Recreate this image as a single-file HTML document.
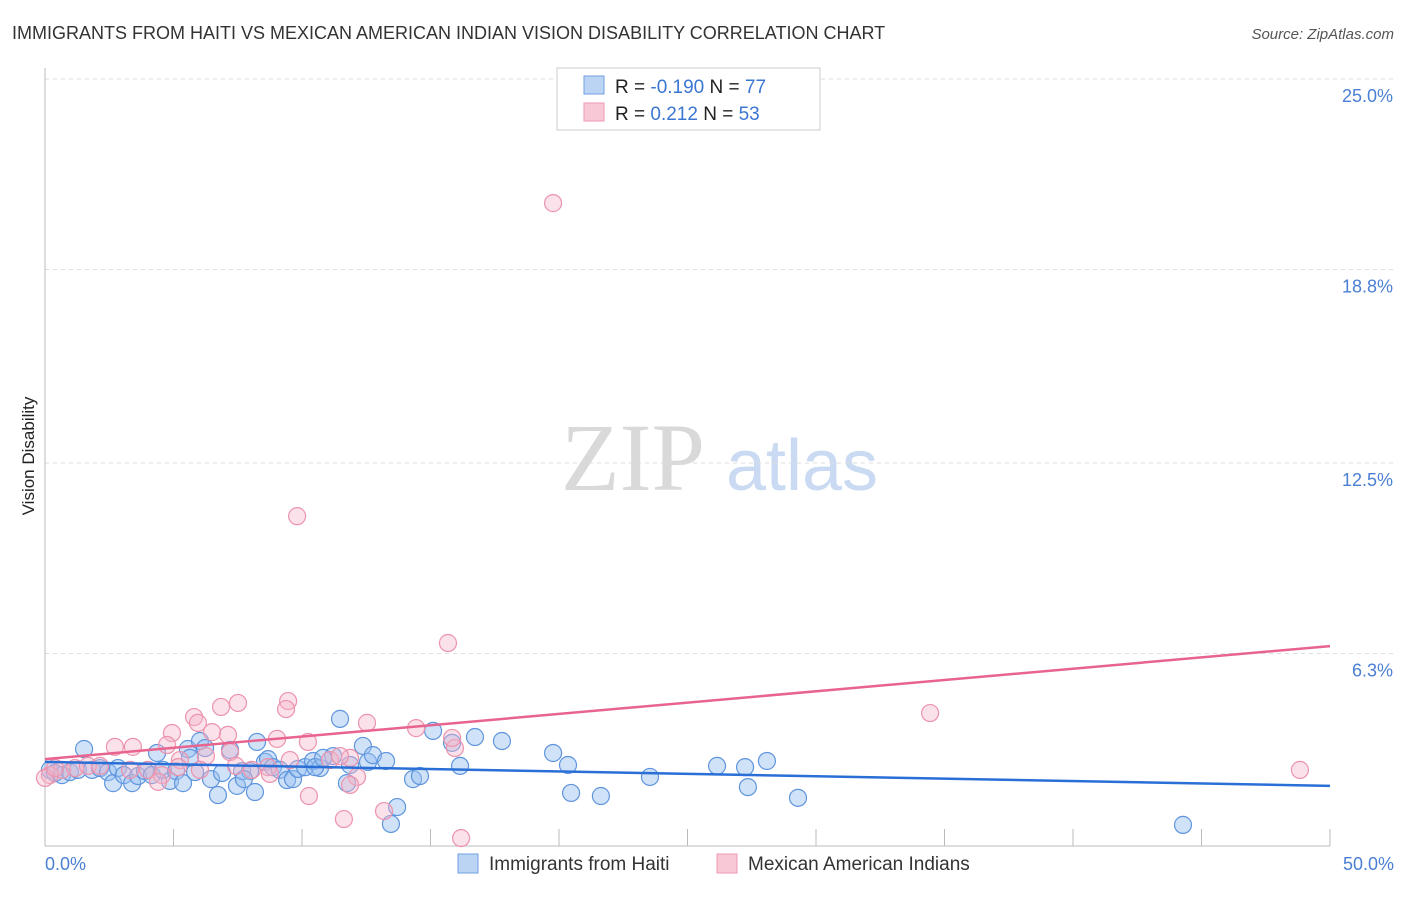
<!DOCTYPE html>
<html><head><meta charset="utf-8"><style>
body{margin:0;background:#fff;font-family:"Liberation Sans",sans-serif}
</style></head><body>
<svg width="1406" height="892" xmlns="http://www.w3.org/2000/svg" font-family="Liberation Sans, sans-serif">
<text x="12" y="39" font-size="18" fill="#333">IMMIGRANTS FROM HAITI VS MEXICAN AMERICAN INDIAN VISION DISABILITY CORRELATION CHART</text>
<text x="1394" y="39" font-size="15" fill="#555" font-style="italic" text-anchor="end">Source: ZipAtlas.com</text>
<g><text x="633" y="490" font-size="96" font-family="Liberation Serif, serif" fill="#d9d9d9" text-anchor="middle">ZIP</text><text x="802" y="490" font-size="72" fill="#c9daf2" text-anchor="middle">atlas</text></g>
<g id="grid"></g>
<line x1="45" y1="68" x2="45" y2="846" stroke="#bbb"/>
<line x1="45" y1="846" x2="1330" y2="846" stroke="#bbb"/>
<g id="ticks"></g>
<text transform="translate(34,456) rotate(-90)" font-size="17" fill="#222" text-anchor="middle">Vision Disability</text>
<text x="45" y="870" font-size="18" fill="#4a7fd4">0.0%</text>
<text x="1394" y="870" font-size="18" fill="#4a7fd4" text-anchor="end">50.0%</text>
<g id="pts"></g>
<g id="lines"></g>
<g>
<rect x="557" y="68" width="263" height="62" fill="#fff" stroke="#ccc"/>
<rect x="584" y="76" width="20" height="18" fill="#bcd4f4" stroke="#6f9fe0"/>
<rect x="584" y="103" width="20" height="18" fill="#f9c8d6" stroke="#ee9ab3"/>
<text x="615" y="93" font-size="19" fill="#222">R = <tspan fill="#3b76d2">-0.190</tspan>   N = <tspan fill="#3b76d2">77</tspan></text>
<text x="615" y="120" font-size="19" fill="#222">R =   <tspan fill="#3b76d2">0.212</tspan>   N = <tspan fill="#3b76d2">53</tspan></text>
</g>
<g>
<rect x="458" y="854" width="20" height="19" fill="#bcd4f4" stroke="#6f9fe0"/>
<text x="489" y="870" font-size="19" fill="#333">Immigrants from Haiti</text>
<rect x="717" y="854" width="20" height="19" fill="#f9c8d6" stroke="#ee9ab3"/>
<text x="748" y="870" font-size="19" fill="#333">Mexican American Indians</text>
</g>
</svg>
<script>
const yTicks=[25.0,18.8,12.5,6.3];
const yTickLabels=["25.0%","18.8%","12.5%","6.3%"];
const xTicks=[0,5,10,15,20,25,30,35,40,45,50];
const blueX=[0.19,0.39,0.66,0.97,1.28,1.52,1.83,2.14,2.45,2.65,2.84,3.07,3.39,3.62,3.89,4.16,4.36,4.59,4.86,5.1,5.37,5.56,5.64,6.03,6.23,6.46,6.73,6.89,7.2,7.47,7.67,7.98,8.17,8.25,8.56,8.68,8.87,9.14,9.42,9.65,9.84,10.12,10.43,10.7,11.21,11.48,11.75,11.87,12.37,12.57,12.76,13.27,13.46,13.7,14.32,14.59,15.1,15.84,16.15,16.73,17.78,19.77,20.35,20.47,21.63,23.54,26.15,27.24,27.35,28.09,29.3,44.28,10.51,10.82,7.74,5.84];
const blueY=[2.51,2.41,2.34,2.44,2.51,3.19,2.51,2.57,2.44,2.08,2.57,2.34,2.08,2.31,2.47,2.34,3.06,2.51,2.15,2.47,2.08,3.19,2.9,3.45,3.22,2.21,1.69,2.41,3.16,1.99,2.47,2.47,1.79,3.42,2.77,2.86,2.6,2.51,2.18,2.21,2.54,2.6,2.8,2.57,2.96,4.17,2.08,2.67,3.29,2.77,2.99,2.8,0.75,1.3,2.21,2.31,3.78,3.39,2.64,3.58,3.45,3.06,2.67,1.76,1.66,2.28,2.64,2.6,1.95,2.8,1.6,0.72,2.6,2.9,2.21,2.44];
const pinkX=[19.77,9.81,15.68,34.44,48.83,7.51,9.46,9.38,6.85,5.8,4.94,5.95,6.5,7.12,9.03,12.53,14.44,10.23,2.72,3.42,4.75,7.2,5.25,6.26,0.66,0.19,0,1.17,1.67,2.14,3.31,4.01,4.55,5.18,6.03,7.43,8.05,8.68,9.53,11.09,11.87,12.14,11.48,11.87,10.27,11.63,13.19,16.19,15.95,15.84,4.4,8.75,0.39];
const pinkY=[20.96,10.77,6.64,4.36,2.51,4.69,4.75,4.49,4.56,4.23,3.71,4.04,3.74,3.65,3.52,4.04,3.87,3.42,3.26,3.26,3.32,3.09,2.83,2.96,2.51,2.34,2.25,2.57,2.64,2.64,2.51,2.51,2.34,2.6,2.51,2.64,2.51,2.6,2.83,2.83,2.9,2.28,2.96,2.02,1.66,0.91,1.17,0.29,3.22,3.55,2.12,2.38,2.57];
const blueTrend=[2.77,1.99];
const pinkTrend=[2.86,6.54];
const NS="http://www.w3.org/2000/svg";
const sx=v=>45+v*25.7, sy=v=>847-v*30.72;
function mk(tag,attrs,parent){const e=document.createElementNS(NS,tag);for(const k in attrs)e.setAttribute(k,attrs[k]);document.getElementById(parent).appendChild(e);return e;}
yTicks.forEach((t,i)=>{
 const l=mk('line',{x1:45,x2:1394,y1:sy(t),y2:sy(t),stroke:'#ddd','stroke-dasharray':'4,4'},'grid');
 
 
 const tx=mk('text',{x:1393,y:sy(t)+23,'font-size':18,fill:'#4a7fd4','text-anchor':'end'},'grid');
 tx.textContent=yTickLabels[i];
 
 
});
xTicks.forEach(t=>{
 const l=mk('line',{x1:sx(t),x2:sx(t),y1:829,y2:846,stroke:'#bbb'},'ticks');
 
 
});
blueX.forEach((x,i)=>{
 const c=mk('circle',{cx:sx(x),cy:sy(blueY[i]),r:8.5,fill:'rgba(150,190,240,0.45)',stroke:'#5f95de','stroke-width':1.2},'pts');
 
 
});
pinkX.forEach((x,i)=>{
 const c=mk('circle',{cx:sx(x),cy:sy(pinkY[i]),r:8.5,fill:'rgba(246,180,200,0.4)',stroke:'#ec93ad','stroke-width':1.2},'pts');
 
 
});
const bl=mk('line',{x1:sx(0),x2:sx(50),y1:sy(blueTrend[0]),y2:sy(blueTrend[1]),stroke:'#2a6fd6','stroke-width':2.5},'lines');


const pl=mk('line',{x1:sx(0),x2:sx(50),y1:sy(pinkTrend[0]),y2:sy(pinkTrend[1]),stroke:'#e8648e','stroke-width':2.5},'lines');


</script>
</body></html>
